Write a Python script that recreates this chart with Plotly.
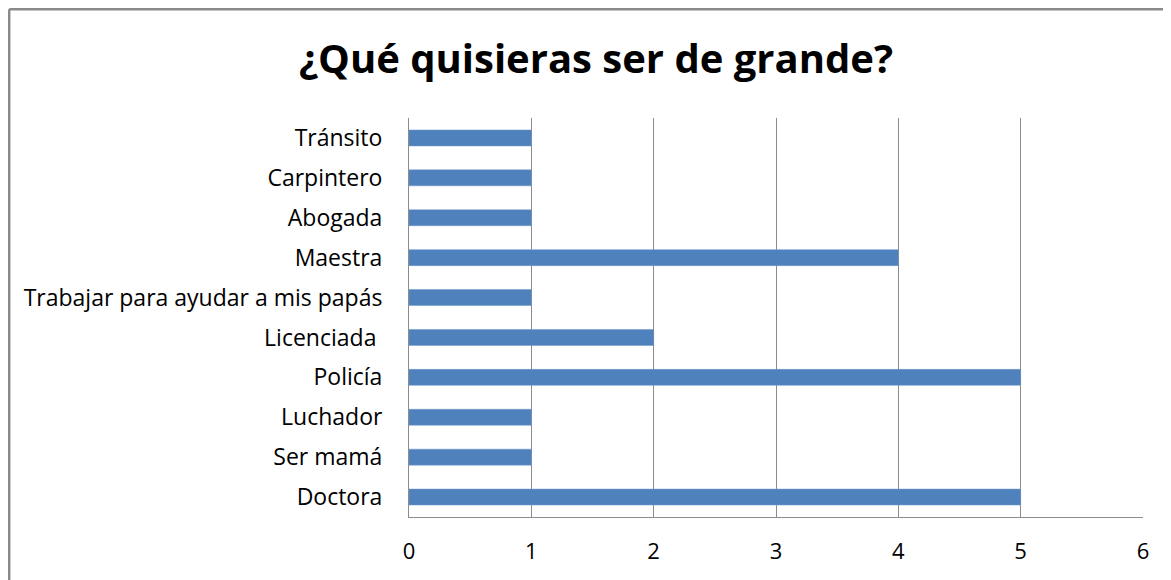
import plotly.graph_objects as go

categories = ["Doctora", "Ser mamá", "Luchador", "Policía", "Licenciada ",
              "Trabajar para ayudar a mis papás", "Maestra", "Abogada",
              "Carpintero", "Tránsito"]
values = [5, 1, 1, 5, 2, 1, 4, 1, 1, 1]
x_ticks = [0, 1, 2, 3, 4, 5, 6]

FONT = "Open Sans"

# page body adds an 8px offset; figure geometry compensates for it
OFF = 8
W, H = 1171, 580 - OFF
L, R, T, B = 409 - OFF, 1143 - OFF, 118 - OFF, 517 - OFF
pw, ph = R - L, B - T

fig = go.Figure(go.Bar(
    x=values, y=categories, orientation="h",
    marker=dict(color="#4F81BD", line=dict(color="#6E97CC", width=0.5)),
))

bx, by = 1.2, 1.2  # outer frame position in figure px (as close to edge as possible)

fig.update_layout(
    width=W, height=H,
    margin=dict(l=L, r=W - R, t=T, b=H - B),
    paper_bgcolor="white", plot_bgcolor="white",
    bargap=0.6,
    showlegend=False,
    title=dict(text="<b>¿Qué quisieras ser de grande?</b>",
               x=(596 - OFF) / W, xref="container", xanchor="center",
               y=1 - (59 - OFF) / H, yref="container", yanchor="middle",
               font=dict(family=FONT, size=40, color="#000000")),
    font=dict(family=FONT, size=23, color="#000000"),
    xaxis=dict(range=[0, 6], tickvals=x_ticks, showgrid=True,
               gridcolor="#8C8C8C", gridwidth=1, zeroline=False,
               showline=True, linecolor="#8C8C8C", linewidth=1,
               ticks="", ticklabelstandoff=15,
               tickfont=dict(family=FONT, size=22, color="#000000")),
    yaxis=dict(categoryorder="array", categoryarray=categories,
               showgrid=False, zeroline=False,
               showline=True, linecolor="#8C8C8C", linewidth=1,
               ticks="", ticklabelstandoff=21,
               tickfont=dict(family=FONT, size=23, color="#000000")),
    shapes=[
        dict(type="line", xref="paper", yref="paper",
             x0=(bx - L) / pw, x1=(1250 - L) / pw,
             y0=(B - by) / ph, y1=(B - by) / ph,
             line=dict(color="#8A8A8A", width=2.5)),
        dict(type="line", xref="paper", yref="paper",
             x0=(bx - L) / pw, x1=(bx - L) / pw,
             y0=(B - by) / ph, y1=(B - 620) / ph,
             line=dict(color="#8A8A8A", width=2.5)),
    ],
)

fig.write_html("out.html")
